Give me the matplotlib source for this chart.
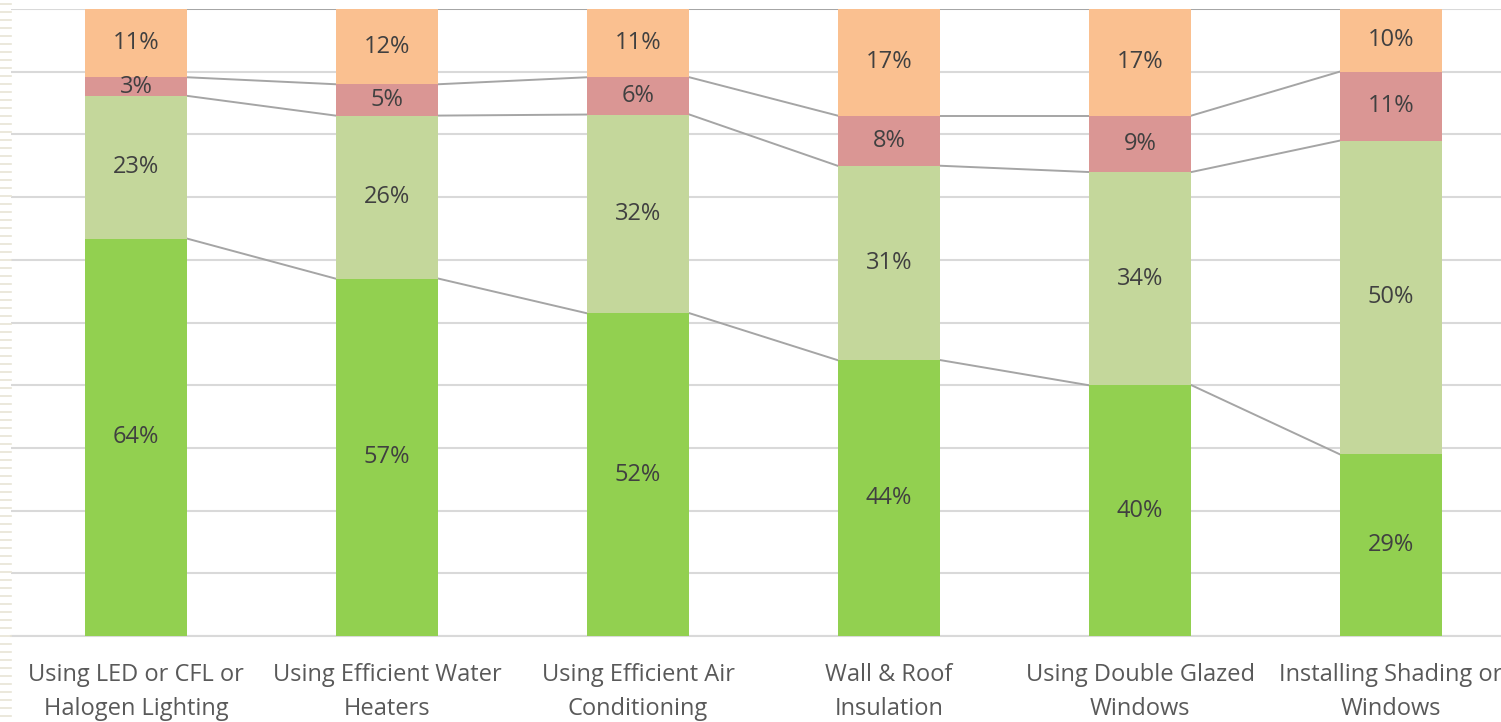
"""
100% stacked bar chart of adoption shares for energy-saving measures.
"""

import numpy as np
import matplotlib
matplotlib.use("Agg")
import matplotlib.pyplot as plt
from matplotlib.lines import Line2D

plt.rcParams.update({
    'font.family': ['Open Sans', 'DejaVu Sans'],
    'figure.dpi': 100,
})

categories = [
    "Using LED or CFL or\nHalogen Lighting",
    "Using Efficient Water\nHeaters",
    "Using Efficient Air\nConditioning",
    "Wall & Roof\nInsulation",
    "Using Double Glazed\nWindows",
    "Installing Shading or\nWindows",
]

# shares as labelled (bottom to top)
series_a = [64, 57, 52, 44, 40, 29]
series_b = [23, 26, 32, 31, 34, 50]
series_c = [3, 5, 6, 8, 9, 11]
series_d = [11, 12, 11, 17, 17, 10]

colors = ['#92D050', '#C4D79B', '#DA9694', '#FAC090']

raw = np.array([series_a, series_b, series_c, series_d], dtype=float)
shares = raw / raw.sum(axis=0)  # Excel 100% stacked normalises each column
bottoms = np.vstack([np.zeros(shares.shape[1]), np.cumsum(shares, axis=0)[:-1]])
tops = np.cumsum(shares, axis=0)

W, H = 1501, 722
fig = plt.figure(figsize=(W / 100, H / 100))
ax = fig.add_axes([10.5 / W, (H - 636) / H, 1506 / W, 627 / H])

x = np.arange(len(categories))
bar_w = 0.41

for k in range(raw.shape[0]):
    ax.bar(x, shares[k], bottom=bottoms[k], width=bar_w, color=colors[k],
           zorder=3, linewidth=0)
    for i in x:
        ax.text(i, bottoms[k][i] + shares[k][i] / 2, f"{raw[k][i]:.0f}%",
                ha='center', va='center', fontsize=17, color='#404040', zorder=4)

# series lines between neighbouring bars
for k in range(raw.shape[0]):
    for i in x[:-1]:
        ax.plot([i + bar_w / 2, i + 1 - bar_w / 2], [tops[k][i], tops[k][i + 1]],
                color='#A5A5A5', linewidth=1.4, zorder=2)

ax.set_xlim(-0.5, len(categories) - 0.5)
ax.set_ylim(0, 1)
ax.set_yticks(np.linspace(0, 1, 11))
ax.yaxis.grid(True, color='#D9D9D9', linewidth=1.5, zorder=0)
ax.set_axisbelow(True)
ax.tick_params(axis='y', left=False, labelleft=False)
ax.tick_params(axis='x', bottom=False, pad=16)
ax.set_xticks(x)
ax.set_xticklabels(categories, fontsize=17, color='#595959', linespacing=1.55)
for side in ['top', 'right', 'left']:
    ax.spines[side].set_visible(False)
ax.spines['bottom'].set_color('#D9D9D9')
ax.spines['bottom'].set_linewidth(1.5)

# faint dashed strip along the left edge
for yy in np.arange(4, H, 8):
    fig.add_artist(Line2D([0, 11 / W], [1 - yy / H, 1 - yy / H], color='#E8E4D6',
                          linewidth=1.2, transform=fig.transFigure))

fig.savefig("out.png", dpi=100)
